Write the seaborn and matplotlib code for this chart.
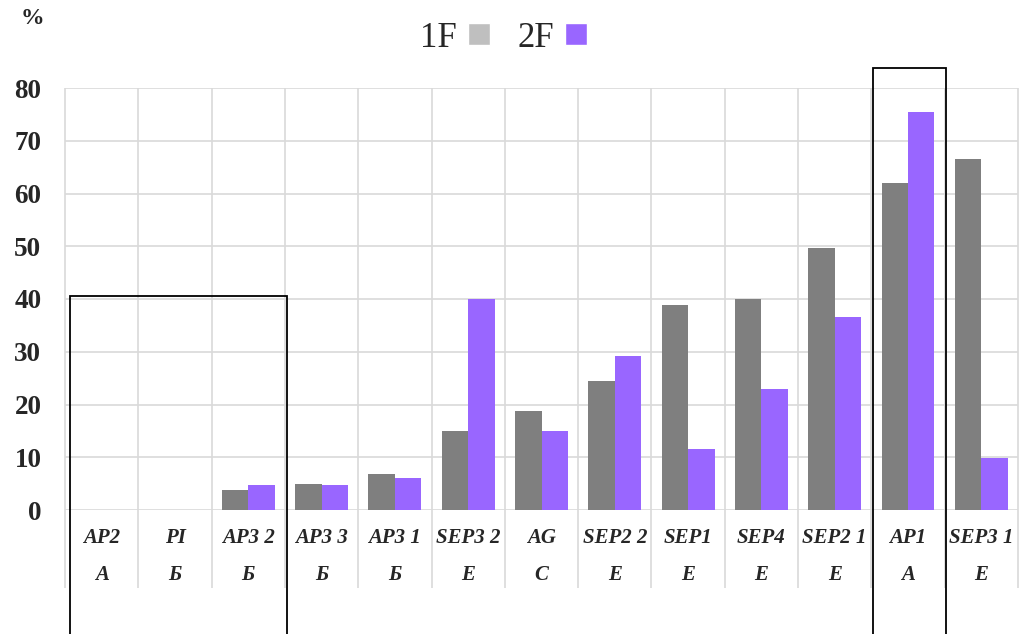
import matplotlib
matplotlib.use("Agg")
import matplotlib.pyplot as plt
from matplotlib.patches import Rectangle, Patch
import seaborn as sns
import pandas as pd

# data
genes = ["AP2", "PI", "AP3 2", "AP3 3", "AP3 1", "SEP3 2", "AG",
         "SEP2 2", "SEP1", "SEP4", "SEP2 1", "AP1", "SEP3 1"]
classes = ["A", "Б", "Б", "Б", "Б", "E", "C", "E", "E", "E", "E", "A", "E"]
f1 = [0, 0, 3.7, 5.0, 6.8, 14.9, 18.7, 24.5, 38.8, 40.0, 49.6, 62.0, 66.6]
f2 = [0, 0, 4.7, 4.7, 6.1, 40.0, 15.0, 29.2, 11.5, 23.0, 36.6, 75.5, 9.9]
series = ["1F", "2F"]

bar_colors = ["#7f7f7f", "#9966ff"]
legend_colors = ["#bfbfbf", "#9966ff"]

df = pd.DataFrame({
    "gene": genes * 2,
    "value": f1 + f2,
    "series": ["1F"] * len(genes) + ["2F"] * len(genes),
})

sns.set_style("white")
plt.rcParams["font.family"] = ["Liberation Serif", "DejaVu Serif"]

fig = plt.figure(figsize=(10.3, 6.34), dpi=100)
ax = fig.add_axes([65 / 1030, 1 - 510 / 634, (1018 - 65) / 1030, (510 - 88) / 634])

sns.barplot(data=df, x="gene", y="value", hue="series", palette=bar_colors,
            width=0.72, saturation=1, ax=ax, legend=False, linewidth=0)

n = len(genes)
ax.set_xlim(-0.5, n - 0.5)
ax.set_ylim(0, 80)
ax.set_yticks(range(0, 81, 10))
ax.set_yticklabels([str(v) for v in range(0, 81, 10)], fontsize=19.5, fontweight="bold")
ax.tick_params(axis="y", length=0, pad=17)
ax.grid(axis="y", color="#d9d9d9", linewidth=1.2)
ax.set_axisbelow(True)
for s in ax.spines.values():
    s.set_visible(False)

# category table under the axis (vertical separators run into label area)
ax.vlines([i - 0.5 for i in range(n + 1)], -14.8, 80, colors="#d9d9d9",
          linewidth=1.2, clip_on=False, zorder=0)
ax.set_xticks(range(n))
ax.set_xticklabels([f"{g}\n{c}" for g, c in zip(genes, classes)],
                   fontsize=15, fontstyle="italic", fontweight="bold",
                   linespacing=2.15)
ax.tick_params(axis="x", length=0, pad=13)
ax.set_xlabel("")
ax.set_ylabel("")

# highlight boxes
ax.add_patch(Rectangle((-0.43, -30), 2.96, 70.6, fill=False, edgecolor="black",
                       linewidth=1.3, clip_on=False, zorder=5))
ax.add_patch(Rectangle((10.52, -30), 1.0, 113.8, fill=False, edgecolor="black",
                       linewidth=1.3, clip_on=False, zorder=5))

handles = [Patch(facecolor=c, label=s) for c, s in zip(legend_colors, series)]
fig.legend(handles=handles, loc="center", bbox_to_anchor=(0.489, 0.94), ncol=2,
           frameon=False, markerfirst=False, fontsize=25, handlelength=0.63,
           handleheight=0.6, handletextpad=0.32, columnspacing=0.78)

fig.text(32 / 1030, 1 - 19 / 634, "%", fontsize=17, fontweight="bold",
         ha="center", va="center")

fig.savefig("out.png", dpi=100)
